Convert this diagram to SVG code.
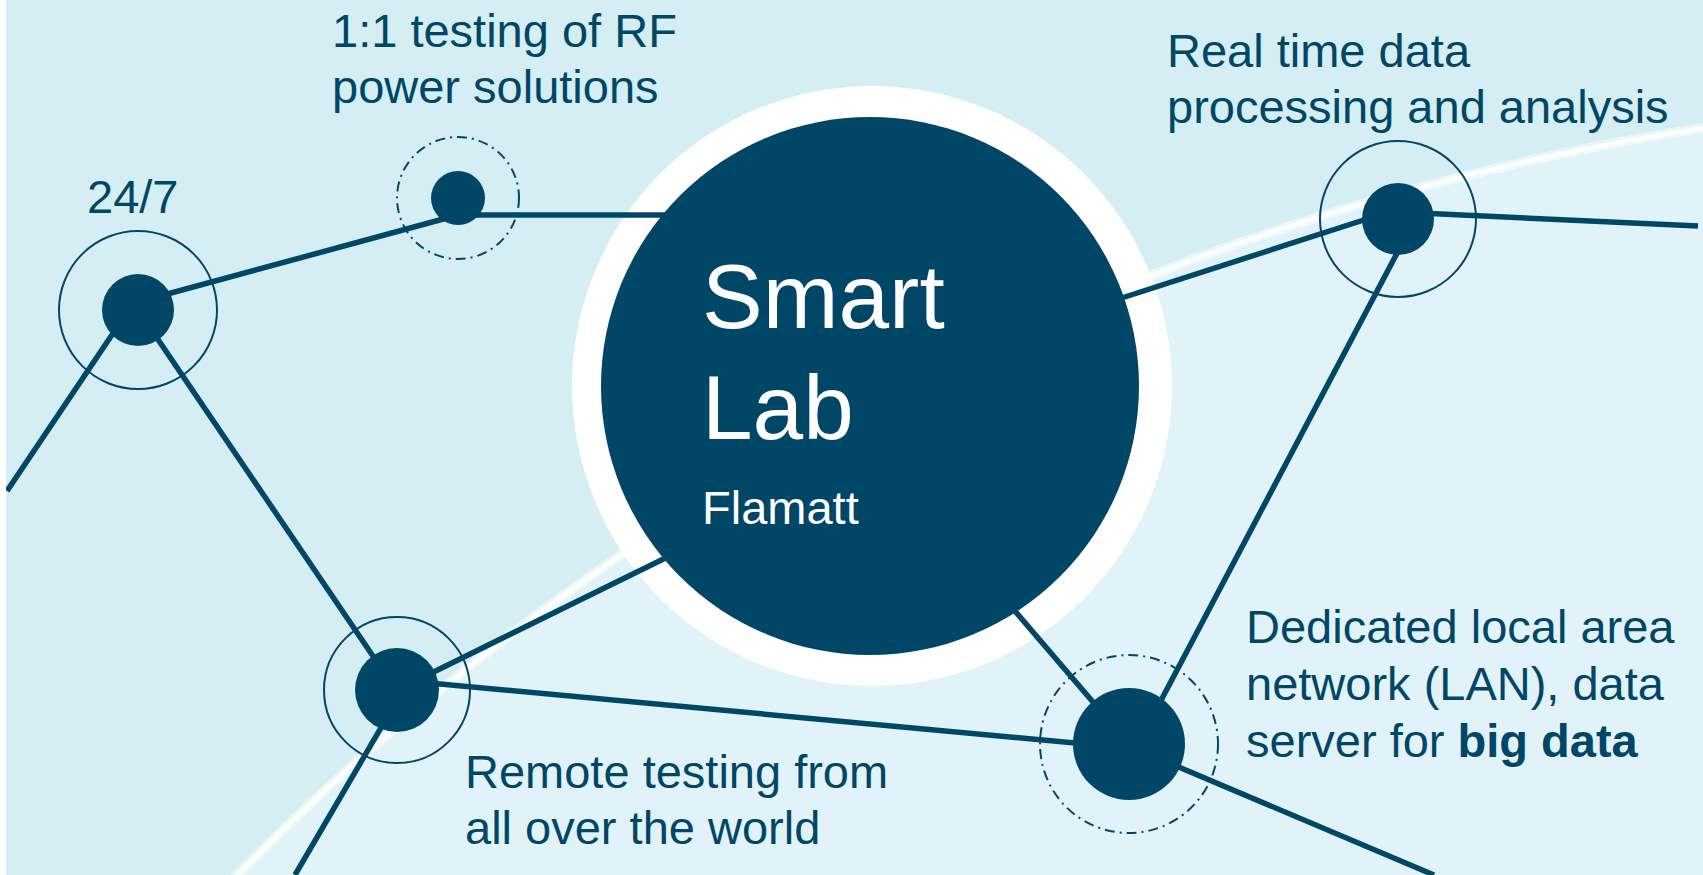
<svg xmlns="http://www.w3.org/2000/svg" width="1703" height="875" viewBox="0 0 1703 875">
<defs>
<style>
.conn{stroke:#004767;stroke-width:5.5;fill:none}
.dot{fill:#004767}
.ring{fill:none;stroke:#004767;stroke-width:2}
.dashring{fill:none;stroke:#004767;stroke-width:2;stroke-dasharray:10 5 2 5}
.lbl{font-family:"Liberation Sans",Arial,sans-serif;font-size:47px;fill:#004767}
.big{font-family:"Liberation Sans",Arial,sans-serif;fill:#ffffff}
</style>
<clipPath id="clip"><rect x="6" y="0" width="1697" height="875"/></clipPath>
</defs>
<rect width="1703" height="875" fill="#ffffff"/>
<g id="background" clip-path="url(#clip)">
<rect x="6" y="0" width="1697" height="875" fill="#D5EEF3"/>
<circle cx="2098" cy="2715" r="2617" fill="#E1F3F8" stroke="#ffffff" stroke-opacity="0.5" stroke-width="10"/>
<circle cx="2098" cy="2715" r="2617" fill="none" stroke="#ffffff" stroke-width="4"/>
</g>
<g id="smartlab-halo">
<circle cx="872" cy="386" r="300" fill="#ffffff"/>
</g>
<g id="connectors" clip-path="url(#clip)">
<line class="conn" x1="128" y1="311" x2="7" y2="491"/>
<line class="conn" x1="138" y1="302" x2="458" y2="215"/>
<line class="conn" x1="458" y1="215" x2="700" y2="215"/>
<line class="conn" x1="138" y1="310" x2="396" y2="690"/>
<line class="conn" x1="397" y1="690" x2="700" y2="541"/>
<line class="conn" x1="397" y1="680" x2="1129" y2="748"/>
<line class="conn" x1="403" y1="690" x2="295" y2="875"/>
<line class="conn" x1="1129" y1="744" x2="990" y2="582"/>
<line class="conn" x1="1138" y1="744" x2="1404" y2="240"/>
<line class="conn" x1="1129" y1="746" x2="1434" y2="875"/>
<line class="conn" x1="1398" y1="209" x2="1100" y2="305"/>
<line class="conn" x1="1398" y1="212" x2="1698" y2="226"/>
</g>
<g id="smartlab">
<circle cx="870" cy="386" r="269" fill="#004767"/>
<text class="big" x="702" y="328" font-size="91">Smart</text>
<text class="big" x="702" y="439" font-size="91">Lab</text>
<text class="big" x="702" y="524" font-size="47">Flamatt</text>
</g>
<g id="node-247">
<circle class="ring" cx="138" cy="310" r="79"/>
<circle class="dot" cx="138" cy="310" r="36"/>
<text class="lbl" x="87" y="213">24/7</text>
</g>
<g id="node-rf">
<circle class="dashring" cx="458" cy="198" r="61"/>
<circle class="dot" cx="458" cy="198" r="27"/>
<text class="lbl" x="332" y="47">1:1 testing of RF</text>
<text class="lbl" x="332" y="103">power solutions</text>
</g>
<g id="node-remote">
<circle class="ring" cx="397" cy="690" r="73"/>
<circle class="dot" cx="397" cy="690" r="42"/>
<text class="lbl" x="465" y="788">Remote testing from</text>
<text class="lbl" x="465" y="844">all over the world</text>
</g>
<g id="node-lan">
<circle class="dashring" cx="1129" cy="744" r="89"/>
<circle class="dot" cx="1129" cy="744" r="56"/>
<text class="lbl" x="1246" y="643">Dedicated local area</text>
<text class="lbl" x="1246" y="700">network (LAN), data</text>
<text class="lbl" x="1246" y="757">server for <tspan font-weight="bold">big data</tspan></text>
</g>
<g id="node-realtime">
<circle class="ring" cx="1398" cy="219" r="78"/>
<circle class="dot" cx="1398" cy="219" r="36"/>
<text class="lbl" x="1167" y="67">Real time data</text>
<text class="lbl" x="1167" y="123">processing and analysis</text>
</g>
</svg>
